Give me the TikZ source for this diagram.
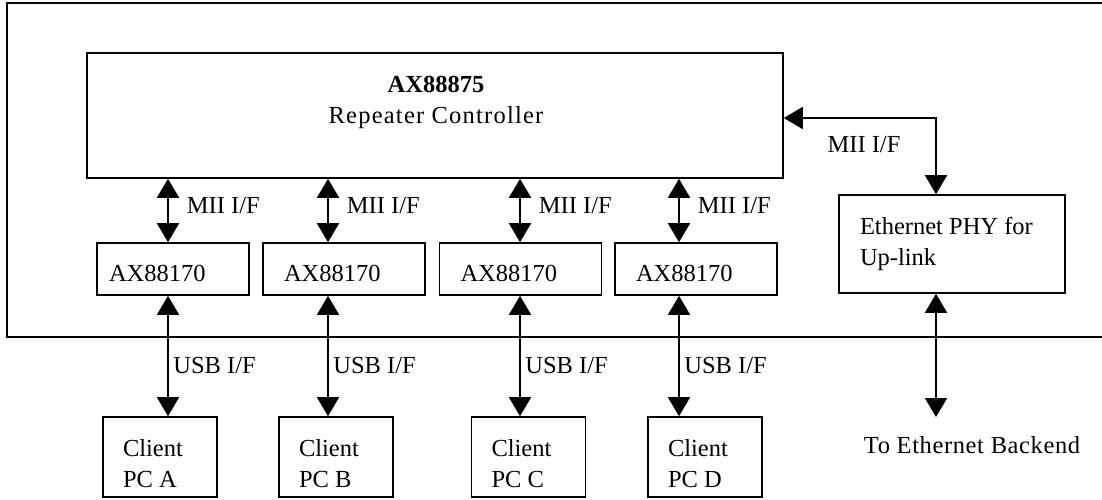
\documentclass[tikz,border=0pt]{standalone}
\usepackage{fontspec}
\setmainfont{Liberation Serif}
\usetikzlibrary{arrows.meta}

\begin{document}
\begin{tikzpicture}[x=1pt, y=-1pt]
\tikzstyle{every node} = [font=\fontsize{24.5}{31}\selectfont]
\tikzstyle{box} = [draw, line width=1.6pt, align=flush left, inner ysep=0pt]
\tikzstyle{macbox} = [box, minimum height=52pt, inner xsep=21pt, text width=120pt, execute at begin node=\noindent\rule{0pt}{26pt}]
\tikzstyle{pcbox} = [box, minimum height=80pt, inner xsep=20pt, text width=74pt, execute at begin node=\noindent\rule{0pt}{30pt}]
\tikzstyle{link} = [line width=1.8pt, {Triangle[length=19pt,width=22pt]}-{Triangle[length=19pt,width=22pt]}]
\tikzstyle{lbl} = [inner sep=0pt, anchor=west]

\useasboundingbox (0,0) rectangle (1102,499);
\clip (0,0) rectangle (1102,499);

% board outline, open to the right
\draw [line width=1.6pt] (1106,3) -- (7,3) -- (7,337) -- (1106,337);

\node [box, minimum width=696pt, minimum height=125pt, inner sep=0pt] (ctrl) at (435,115.5) {};
\node [align=center, inner sep=0pt] (ctrltitle) at (436,102) {\textbf{AX88875}\\\addfontfeature{LetterSpace=5}Repeater Controller};

\node [macbox, inner xsep=12pt, text width=128pt] (mac1) at (173,269) {AX88170};
\node [macbox] (mac2) at (344,269) {AX88170};
\node [macbox] (mac3) at (520.5,269) {AX88170};
\node [macbox] (mac4) at (696,269) {AX88170};

\node [box, minimum height=98pt, inner xsep=21pt, text width=184pt] (phy) at (952,244) {Ethernet PHY for\\Up-link};

\node [pcbox] (pcA) at (160,457) {Client\\PC A};
\node [pcbox] (pcB) at (336,457) {Client\\PC B};
\node [pcbox] (pcC) at (528.5,457) {Client\\PC C};
\node [pcbox] (pcD) at (705,457) {Client\\PC D};

\coordinate (l1) at (168,0);
\coordinate (l2) at (328,0);
\coordinate (l3) at (520,0);
\coordinate (l4) at (679,0);
\coordinate (bend) at (936,118);
\coordinate (tip) at (936,417);

\foreach \i in {1,...,4}
  \draw [link] (ctrl.south -| l\i) -- node [lbl, yshift=4.5pt, xshift=18pt] (mii\i) {MII I/F} (mac\i.north -| l\i);

\foreach \i/\p in {1/A,2/B,3/C,4/D}
  \draw [link] (mac\i.south -| l\i) -- node [lbl, pos=.58, xshift=4.5pt] (usb\i) {USB I/F} (pc\p.north -| l\i);

% up-link side
\draw [link] (ctrl.east |- bend) -- (bend) -- (phy.north -| bend);
\node [inner sep=0pt] (upmii) at (864,145) {MII I/F};
\draw [link] (phy.south -| bend) -- (tip);
\node [inner sep=0pt, font=\fontsize{24.5}{31}\selectfont\addfontfeature{LetterSpace=2.5}] (backend) at (972,445.6) {To Ethernet Backend};
\end{tikzpicture}
\end{document}
